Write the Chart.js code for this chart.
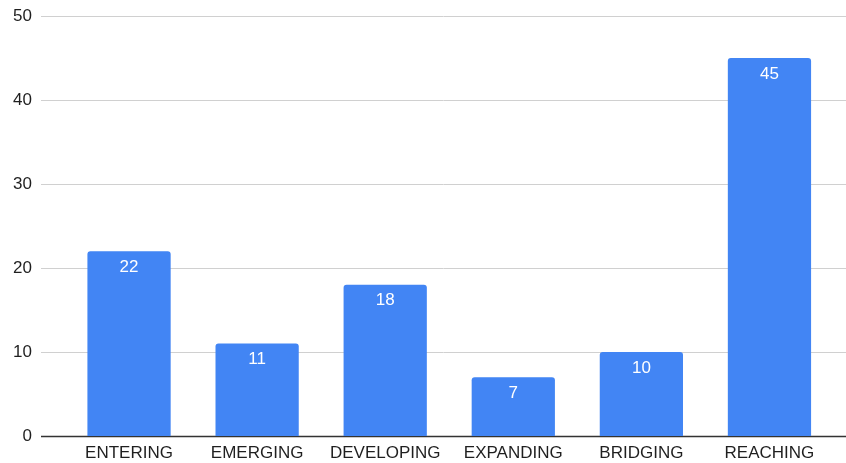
<!DOCTYPE html>
<html>
<head>
<meta charset="utf-8">
<script src="https://cdn.jsdelivr.net/npm/chart.js@4/dist/chart.umd.min.js"></script>
<style>
  html, body { margin: 0; padding: 0; background: #fff; }
  #wrap { width: 846px; height: 463px; }
</style>
</head>
<body>
<div id="wrap"><canvas id="chart"></canvas></div>
<script>
const categories = ['ENTERING', 'EMERGING', 'DEVELOPING', 'EXPANDING', 'BRIDGING', 'REACHING'];
const counts = [22, 11, 18, 7, 10, 45];
const yTicks = [0, 10, 20, 30, 40, 50];

const FONT = '"Liberation Sans", Arial, sans-serif';
const BLUE = '#4285F4';

// horizontal grid lines run wider than the category area, so draw them here
const gridLines = {
  id: 'gridLines',
  beforeDatasetsDraw(chart) {
    const ctx = chart.ctx;
    const y = chart.scales.y;
    ctx.save();
    yTicks.forEach(v => {
      const py = Math.round(y.getPixelForValue(v)) + 0.5;
      ctx.strokeStyle = v === 0 ? '#333333' : '#d0d0d0';
      ctx.lineWidth = v === 0 ? 1.5 : 1;
      ctx.beginPath();
      ctx.moveTo(41, py);
      ctx.lineTo(846, py);
      ctx.stroke();
    });
    ctx.restore();
  }
};

const barLabels = {
  id: 'barLabels',
  afterDatasetsDraw(chart) {
    const ctx = chart.ctx;
    const meta = chart.getDatasetMeta(0);
    ctx.save();
    ctx.fillStyle = '#ffffff';
    ctx.font = '17px ' + FONT;
    ctx.textAlign = 'center';
    ctx.textBaseline = 'middle';
    meta.data.forEach((bar, i) => {
      ctx.fillText(String(counts[i]), bar.x, bar.y + 16);
    });
    ctx.restore();
  }
};

new Chart(document.getElementById('chart'), {
  type: 'bar',
  data: {
    labels: categories,
    datasets: [{
      data: counts,
      backgroundColor: BLUE,
      borderWidth: 0,
      borderRadius: 3,
      borderSkipped: 'bottom',
      categoryPercentage: 1,
      barPercentage: 0.65
    }]
  },
  options: {
    responsive: true,
    maintainAspectRatio: false,
    animation: false,
    layout: { padding: { top: 16, right: 12.5, bottom: 0, left: 0 } },
    plugins: {
      legend: { display: false },
      tooltip: { enabled: false }
    },
    scales: {
      x: {
        grid: { display: false, drawTicks: false },
        border: { display: false },
        ticks: {
          color: '#1f1f1f',
          font: { family: FONT, size: 17 },
          padding: 7,
          maxRotation: 0,
          autoSkip: false
        },
        afterFit(scale) {
          scale.height = 27;
          scale.paddingLeft = 0;
          scale.paddingRight = 0;
        }
      },
      y: {
        min: 0,
        max: 50,
        grid: { display: false, drawTicks: false },
        border: { display: false },
        ticks: {
          stepSize: 10,
          color: '#1f1f1f',
          font: { family: FONT, size: 17 },
          padding: 33
        },
        afterFit(scale) {
          scale.width = 65;
          scale.paddingTop = 0;
          scale.paddingBottom = 0;
        }
      }
    }
  },
  plugins: [gridLines, barLabels]
});
</script>
</body>
</html>
